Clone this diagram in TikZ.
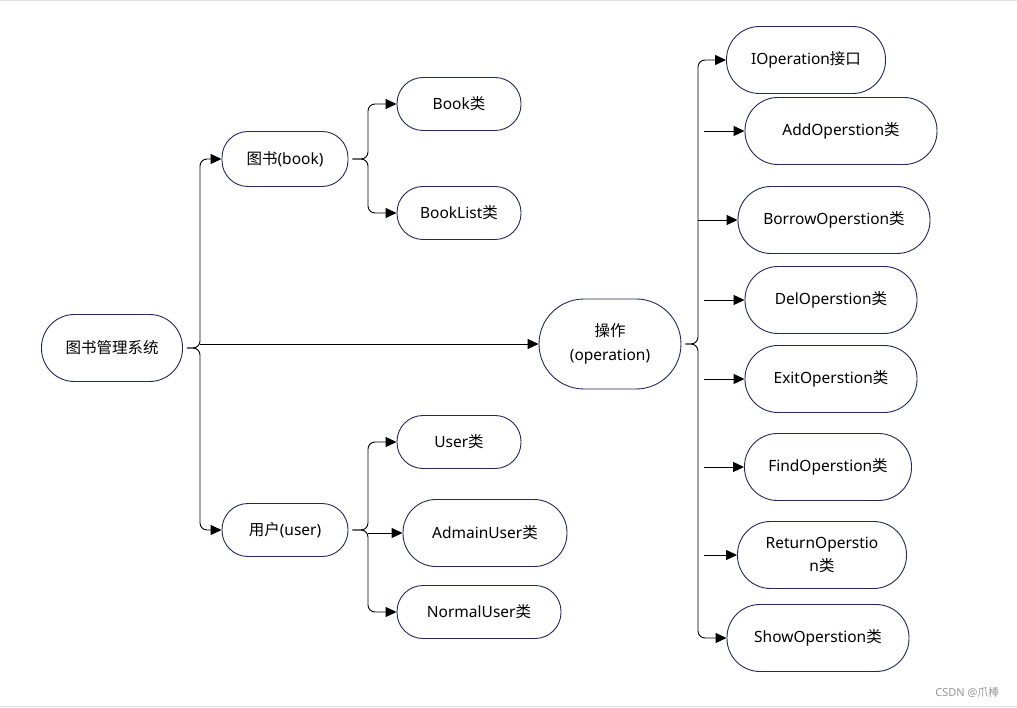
\documentclass[tikz,border=0pt]{standalone}
\usepackage{fontspec}
\setmainfont{Noto Sans}
\newfontfamily\cjk{Noto Sans CJK SC}
\usetikzlibrary{arrows.meta,calc}
\definecolor{boxline}{RGB}{35,40,85}
\definecolor{wmgray}{RGB}{150,150,150}

\begin{document}
\begin{tikzpicture}[x=1pt,y=-1pt,
    cls/.style={draw=boxline, line width=0.9pt, rounded corners=26pt, minimum height=53pt, inner sep=2pt, align=center, font=\fontsize{15.5}{23.5}\selectfont},
    tall/.style={cls, rounded corners=33pt, minimum height=67pt},
    link/.style={-{Triangle[length=11pt,width=10pt]}, line width=0.9pt},
    brace/.style={link, rounded corners=7pt, shorten <=4pt}]
    \useasboundingbox (0,0) rectangle (1017,708);
    \draw[black!12] (0,0.5) -- (1017,0.5);
    \draw[black!12] (0,706.5) -- (1017,706.5);

    \node[tall, minimum width=141pt] (sys) at (112,348) {\cjk 图书管理系统};

    \node[cls, minimum width=126pt, minimum height=55pt] (book) at (285,159) {{\cjk 图书}(book)};
    \node[cls, minimum width=124pt] (bookcls) at (459,104) {Book{\cjk 类}};
    \node[cls, minimum width=124pt] (booklist) at (459,213) {BookList{\cjk 类}};

    \node[cls, minimum width=126pt] (user) at (285,530) {{\cjk 用户}(user)};
    \node[cls, minimum width=124pt] (usercls) at (459,442) {User{\cjk 类}};
    \node[tall, minimum width=164pt] (admain) at (485,533) {AdmainUser{\cjk 类}};
    \node[cls, minimum width=164pt] (normal) at (479,612) {NormalUser{\cjk 类}};

    \node[cls, minimum width=142pt, minimum height=90pt, rounded corners=45pt] (oper) at (610,344) {{\cjk 操作}\\(operation)};

    \node[tall, minimum width=159pt] (iop) at (806,60) {IOperation{\cjk 接口}};
    \node[tall, minimum width=192pt] (addop) at (841,131) {AddOperstion{\cjk 类}};
    \node[tall, minimum width=192pt] (borrowop) at (834,220) {BorrowOperstion{\cjk 类}};
    \node[tall, minimum width=172pt] (delop) at (831,300) {DelOperstion{\cjk 类}};
    \node[tall, minimum width=172pt] (exitop) at (831,379) {ExitOperstion{\cjk 类}};
    \node[tall, minimum width=167pt] (findop) at (828,467) {FindOperstion{\cjk 类}};
    \node[tall, minimum width=169pt] (returnop) at (822,555) {ReturnOperstio\\n{\cjk 类}};
    \node[tall, minimum width=182pt] (showop) at (818,638) {ShowOperstion{\cjk 类}};

    \node[font=\fontsize{11}{13}\selectfont, text=wmgray, anchor=east] (mark) at (1003,692) {CSDN @{\cjk 爪棒}};

    % trunks
    \coordinate (trunkSys) at (200,0);
    \coordinate (trunkSub) at (368,0);
    \coordinate (trunkOp) at (698,0);
    \coordinate (stubOp) at (704,0);

    % system -> book / user / operation
    \draw[brace] (sys.east) -| (trunkSys |- book.west) -- (book.west);
    \draw[brace] (sys.east) -| (trunkSys |- user.west) -- (user.west);
    \draw[link] (trunkSys |- oper.west) -- (oper.west);

    % book
    \draw[brace] (book.east) -| (trunkSub |- bookcls.west) -- (bookcls.west);
    \draw[brace] (book.east) -| (trunkSub |- booklist.west) -- (booklist.west);

    % user
    \draw[brace] (user.east) -| (trunkSub |- usercls.west) -- (usercls.west);
    \draw[brace] (user.east) -| (trunkSub |- normal.west) -- (normal.west);
    \draw[link] (trunkSub |- admain.west) -- (admain.west);

    % operation
    \draw[brace] (oper.east) -| (trunkOp |- iop.west) -- (iop.west);
    \draw[brace] (oper.east) -| (trunkOp |- showop.west) -- (showop.west);
    \draw[link] (stubOp |- addop.west) -- (addop.west);
    \draw[link] (trunkOp |- borrowop.west) -- (borrowop.west);
    \draw[link] (stubOp |- delop.west) -- (delop.west);
    \draw[link] (stubOp |- exitop.west) -- (exitop.west);
    \draw[link] (stubOp |- findop.west) -- (findop.west);
    \draw[link] (stubOp |- returnop.west) -- (returnop.west);
\end{tikzpicture}
\end{document}
